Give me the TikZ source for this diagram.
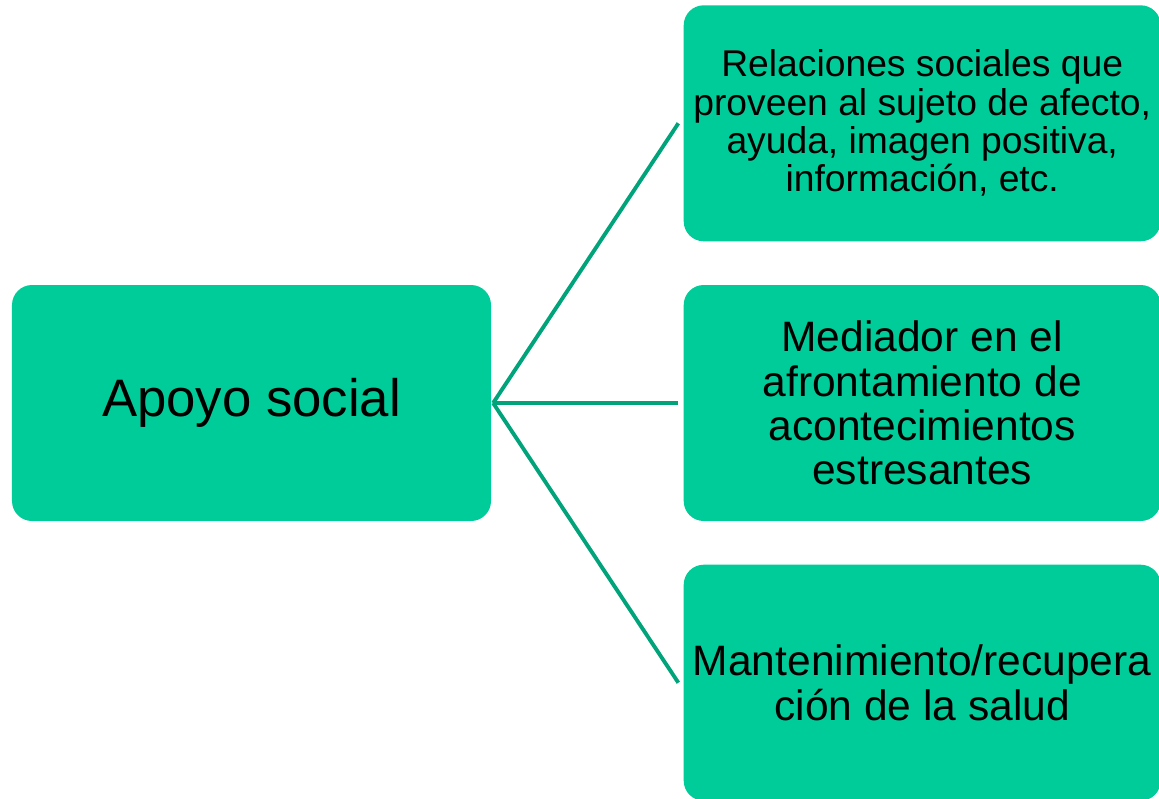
\documentclass[tikz,border=0pt]{standalone}
\usepackage{fontspec}
\setmainfont{Liberation Sans}
\usepackage{xcolor}
\definecolor{boxgreen}{HTML}{00CC99}
\definecolor{linegreen}{HTML}{00A37A}
\usetikzlibrary{positioning}
\tikzstyle{box}=[rectangle, fill=boxgreen, rounded corners=0.4cm, text=black,
        align=center, minimum width=9.54cm, minimum height=4.72cm, inner sep=0pt,
        font=\fontsize{24.2}{25.2}\selectfont]
\tikzstyle{line}=[draw=linegreen, line width=2.2pt]

\begin{document}
\begin{tikzpicture}[node distance=0.86cm]
\clip (0,0) rectangle (23.18,-15.96);

\node (apoyo) [box, minimum width=9.58cm, font=\fontsize{30}{36}\selectfont] at (5.03,-8.06)
  {Apoyo social};
\node (mediador) [box, right=3.84cm of apoyo]
  {Mediador en el\\afrontamiento de\\acontecimientos\\estresantes};
\node (relaciones) [box, above=of mediador, font=\fontsize{21.2}{21.8}\selectfont]
  {Relaciones sociales que\\proveen al sujeto de afecto,\\ayuda, imagen positiva,\\información, etc.};
\node (salud) [box, below=of mediador]
  {Mantenimiento/recupera\\ción de la salud};

% draw lines
\draw[line] ([xshift=1pt]apoyo.east) -- ([xshift=-0.1cm]relaciones.west);
\draw[line] ([xshift=1pt]apoyo.east) -- ([xshift=-0.1cm]mediador.west);
\draw[line] ([xshift=1pt]apoyo.east) -- ([xshift=-0.1cm]salud.west);

\end{tikzpicture}
\end{document}
